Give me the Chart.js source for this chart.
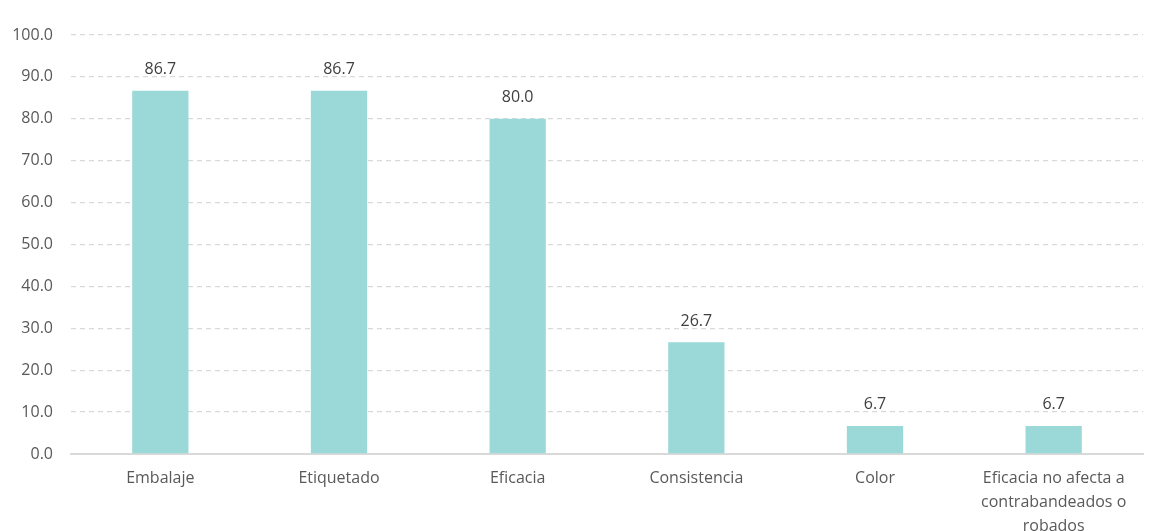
<!DOCTYPE html>
<html>
<head>
<meta charset="utf-8">
<script src="https://cdn.jsdelivr.net/npm/chart.js@4/dist/chart.umd.min.js"></script>
<style>
  html, body { margin: 0; padding: 0; background: #fff; }
  #wrap { width: 1154px; height: 531px; }
</style>
</head>
<body>
<div id="wrap"><canvas id="chart" width="1154" height="531"></canvas></div>
<script>
const categories = [
  "Embalaje",
  "Etiquetado",
  "Eficacia",
  "Consistencia",
  "Color",
  ["Eficacia no afecta a", "contrabandeados o", "robados"]
];
const values = [86.7, 86.7, 80.0, 26.7, 6.7, 6.7];
const yTicks = [0, 10, 20, 30, 40, 50, 60, 70, 80, 90, 100];

const FONT = "'Open Sans', Lato, sans-serif";
const TEXT = "#595959";

// value labels above each bar
const barLabels = {
  id: "barLabels",
  afterDatasetsDraw(chart) {
    const ctx = chart.ctx;
    const meta = chart.getDatasetMeta(0);
    ctx.save();
    ctx.font = "16px " + FONT;
    ctx.fillStyle = "#404040";
    ctx.textAlign = "center";
    ctx.textBaseline = "middle";
    meta.data.forEach((bar, i) => {
      ctx.fillText(values[i].toFixed(1), bar.x, bar.y - 21);
    });
    ctx.restore();
  }
};

new Chart(document.getElementById("chart").getContext("2d"), {
  type: "bar",
  data: {
    labels: categories,
    datasets: [{
      data: values,
      backgroundColor: "#9BD9D8",
      categoryPercentage: 1,
      barPercentage: 0.315
    }]
  },
  options: {
    responsive: false,
    animation: false,
    layout: { padding: { top: 35, right: 11, bottom: 0, left: 0 } },
    plugins: {
      legend: { display: false },
      tooltip: { enabled: false }
    },
    scales: {
      x: {
        grid: { display: false },
        border: { display: true, color: "#d9d9d9", width: 2 },
        ticks: {
          color: TEXT,
          font: { family: FONT, size: 16, lineHeight: 1.5 },
          padding: 4,
          maxRotation: 0,
          autoSkip: false
        },
        afterFit: s => { s.height = 77; }
      },
      y: {
        min: 0,
        max: 100,
        afterBuildTicks: s => { s.ticks = yTicks.map(v => ({ value: v })); },
        grid: {
          color: "#d9d9d9",
          lineWidth: 1.3,
          drawTicks: false
        },
        border: { display: false, dash: [5, 4] },
        ticks: {
          color: TEXT,
          font: { family: FONT, size: 16 },
          padding: 18,
          callback: v => v.toFixed(1)
        },
        afterFit: s => { s.width = 71; }
      }
    }
  },
  plugins: [barLabels]
});
</script>
</body>
</html>
